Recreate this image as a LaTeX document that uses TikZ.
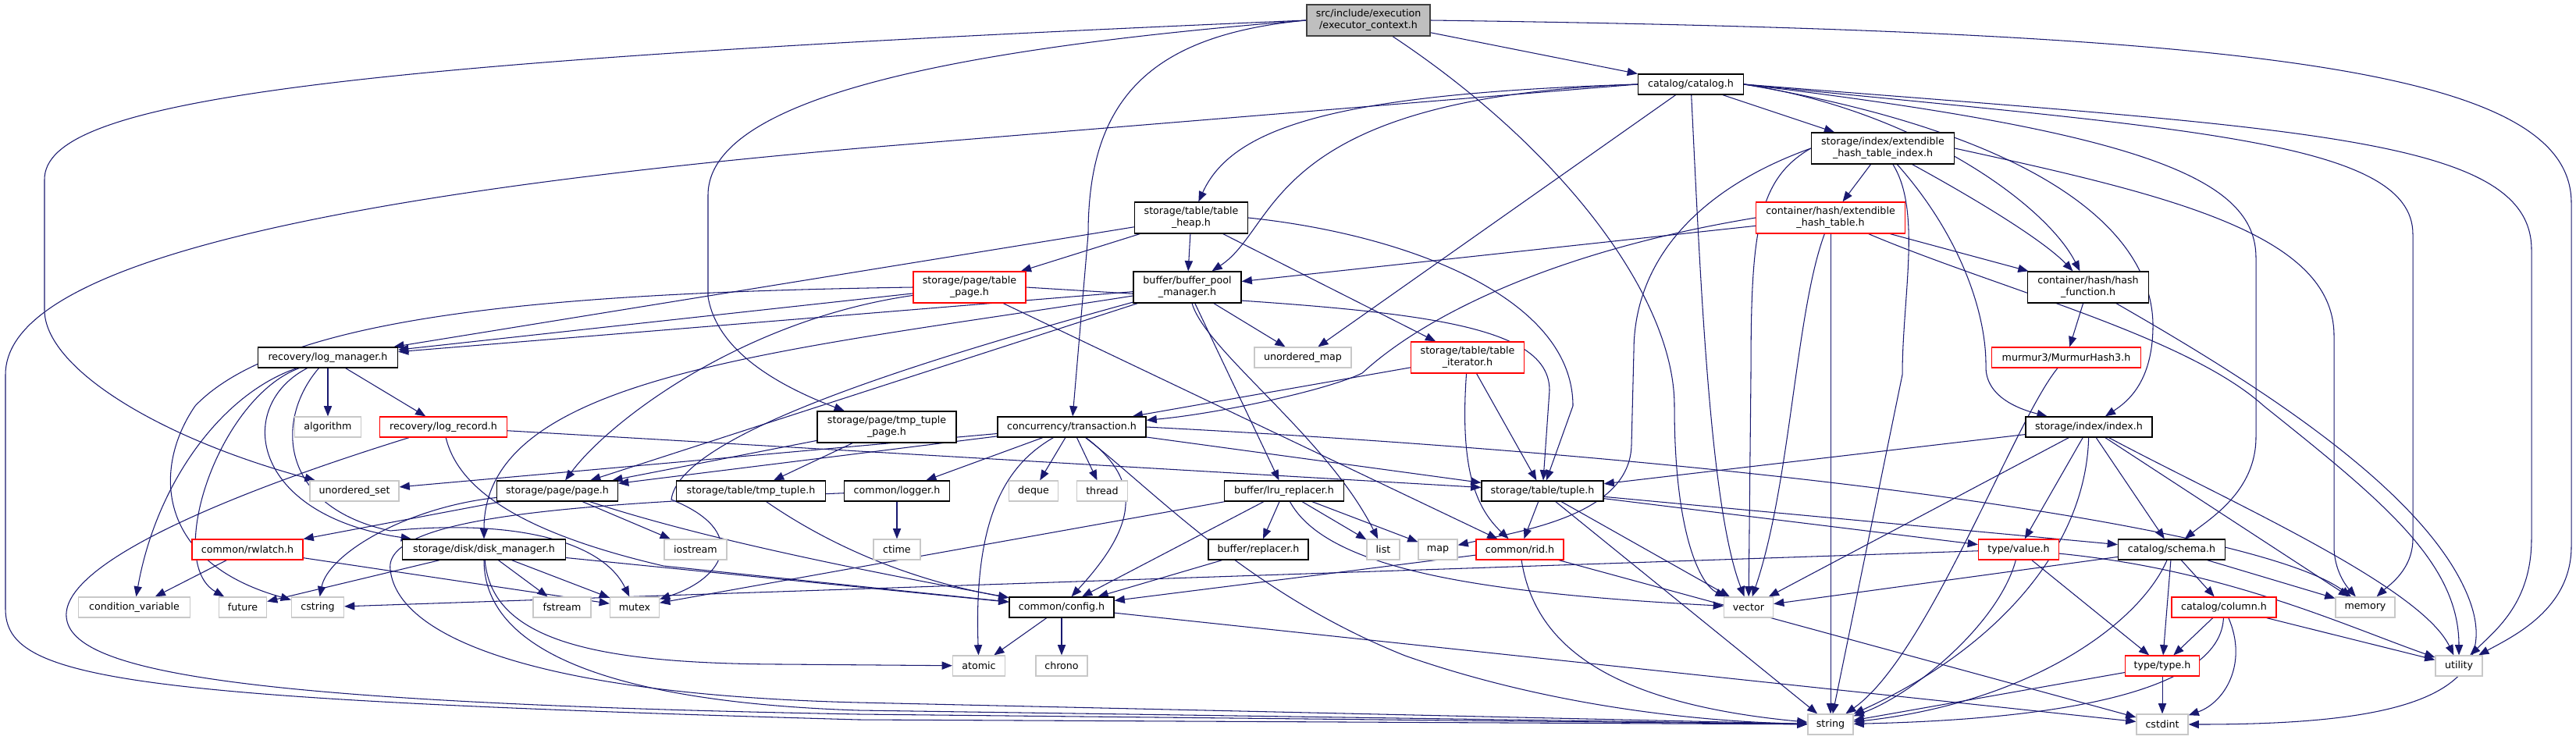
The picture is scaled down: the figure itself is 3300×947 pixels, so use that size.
\documentclass[tikz,border=0pt]{standalone}
\usepackage{fontspec}
\setmainfont{DejaVu Sans}
\usepackage{tikz}
\usetikzlibrary{arrows.meta, backgrounds}
\definecolor{incblue}{RGB}{25,25,112}
\definecolor{extgray}{RGB}{200,200,200}
\definecolor{trunc}{RGB}{255,0,0}
\definecolor{rootfill}{RGB}{191,191,191}
\definecolor{rootline}{RGB}{64,64,64}
\tikzset{
  box/.style    ={rectangle, draw, fill=white, line width=0.75pt, inner sep=0pt,
                  minimum height=0.52cm, align=center, font=\fontsize{7.2}{8.5}\selectfont},
  docbox/.style ={box, draw=black},
  extbox/.style ={box, draw=extgray},
  redbox/.style ={box, draw=trunc},
  rootbox/.style={box, draw=rootline, fill=rootfill},
  tall/.style   ={minimum height=0.8cm},
  inc/.style    ={->, >={Triangle[length=7.5pt,width=5.8pt]}, draw=incblue, line width=0.6pt},
}
\begin{document}
\begin{tikzpicture}[x=0.02cm, y=-0.02cm]
\useasboundingbox (0,0) rectangle (3300,947);

\node[rootbox, tall, minimum width=3.16cm] (ctx) at (1753,26) {src/include/execution\\/executor\_context.h};
\node[docbox, minimum width=2.70cm] (catalog) at (2166,108) {catalog/catalog.h};

\node[docbox, tall, minimum width=2.90cm] (theap) at (1526,279) {storage/table/table\\\_heap.h};
\node[docbox, tall, minimum width=3.66cm] (xindex) at (2412,190) {storage/index/extendible\\\_hash\_table\_index.h};
\node[redbox, tall, minimum width=3.82cm] (xhash) at (2345,279) {container/hash/extendible\\\_hash\_table.h};
\node[redbox, tall, minimum width=2.88cm] (tpage) at (1242,368) {storage/page/table\\\_page.h};
\node[docbox, tall, minimum width=2.76cm] (bpm) at (1521,368) {buffer/buffer\_pool\\\_manager.h};
\node[docbox, tall, minimum width=3.10cm] (hashfn) at (2675,368) {container/hash/hash\\\_function.h};

\node[docbox, minimum width=3.58cm] (logmgr) at (420,458) {recovery/log\_manager.h};
\node[extbox, minimum width=2.48cm] (umap) at (1669,458) {unordered\_map};
\node[redbox, tall, minimum width=2.90cm] (titer) at (1880,458) {storage/table/table\\\_iterator.h};
\node[redbox, minimum width=3.82cm] (murmur) at (2647,458) {murmur3/MurmurHash3.h};

\node[extbox, minimum width=1.70cm] (algo) at (420,547) {algorithm};
\node[redbox, minimum width=3.26cm] (logrec) at (568,547) {recovery/log\_record.h};
\node[docbox, tall, minimum width=3.56cm] (ttpage) at (1136,547) {storage/page/tmp\_tuple\\\_page.h};
\node[docbox, minimum width=3.80cm] (txn) at (1373,547) {concurrency/transaction.h};
\node[docbox, minimum width=3.24cm] (index) at (2676,547) {storage/index/index.h};

\node[extbox, minimum width=2.28cm] (uset) at (454,629) {unordered\_set};
\node[docbox, minimum width=3.10cm] (page) at (714,629) {storage/page/page.h};
\node[docbox, minimum width=3.82cm] (tmptuple) at (962,629) {storage/table/tmp\_tuple.h};
\node[docbox, minimum width=2.70cm] (logger) at (1149,629) {common/logger.h};
\node[extbox, minimum width=1.26cm] (deque) at (1324,629) {deque};
\node[extbox, minimum width=1.30cm] (thread) at (1412,629) {thread};
\node[docbox, minimum width=3.06cm] (lru) at (1645,629) {buffer/lru\_replacer.h};
\node[docbox, minimum width=3.12cm] (tuple) at (1976,629) {storage/table/tuple.h};

\node[redbox, minimum width=2.84cm] (rwlatch) at (317,704) {common/rwlatch.h};
\node[docbox, minimum width=4.18cm] (diskmgr) at (620,704) {storage/disk/disk\_manager.h};
\node[extbox, minimum width=1.60cm] (iostream) at (891,704) {iostream};
\node[extbox, minimum width=1.20cm] (ctime) at (1149,704) {ctime};
\node[docbox, minimum width=2.56cm] (replacer) at (1612,704) {buffer/replacer.h};
\node[extbox, minimum width=0.84cm] (list) at (1772,704) {list};
\node[extbox, minimum width=1.00cm] (map) at (1842,704) {map};
\node[redbox, minimum width=2.24cm] (rid) at (1947,704) {common/rid.h};
\node[redbox, minimum width=2.06cm] (value) at (2586,704) {type/value.h};
\node[docbox, minimum width=2.74cm] (schema) at (2782,704) {catalog/schema.h};

\node[extbox, minimum width=2.86cm] (condvar) at (172,778) {condition\_variable};
\node[extbox, minimum width=1.22cm] (future) at (311,778) {future};
\node[extbox, minimum width=1.34cm] (cstring) at (407,778) {cstring};
\node[extbox, minimum width=1.48cm] (fstream) at (720,778) {fstream};
\node[extbox, minimum width=1.26cm] (mutex) at (813,778) {mutex};
\node[docbox, minimum width=2.68cm] (config) at (1360,778) {common/config.h};
\node[extbox, minimum width=1.26cm] (vector) at (2240,778) {vector};
\node[redbox, minimum width=2.68cm] (column) at (2849,778) {catalog/column.h};
\node[extbox, minimum width=1.52cm] (memory) at (3030,778) {memory};

\node[extbox, minimum width=1.34cm] (atomic) at (1254,853) {atomic};
\node[extbox, minimum width=1.32cm] (chrono) at (1360,853) {chrono};
\node[redbox, minimum width=1.90cm] (type) at (2770,853) {type/type.h};
\node[extbox, minimum width=1.20cm] (utility) at (3150,853) {utility};

\node[extbox, minimum width=1.16cm] (string) at (2345,928) {string};
\node[extbox, minimum width=1.32cm] (cstdint) at (2770,928) {cstdint};

\begin{pgfonlayer}{background}
\fill[white] (0,0) rectangle (3300,947);
% executor_context.h
\draw[inc] (ctx) -- (catalog);
\draw[inc] (ctx.west) .. controls (1470,45) and (1394,130) .. (1394,300) -- (txn);
\draw[inc] (ctx.west) .. controls (1250,60) and (907,120) .. (907,250) -- (907,380) .. controls (915,430) and (960,480) .. (ttpage);
\draw[inc] (ctx.west) .. controls (400,80) and (57,130) .. (57,230) -- (57,397) .. controls (57,470) and (200,560) .. (uset);
\draw[inc] (ctx) .. controls (2000,190) and (2145,380) .. (2145,520) .. controls (2145,690) and (2180,750) .. (vector);
\draw[inc] (ctx.east) .. controls (2900,40) and (3294,90) .. (3294,260) -- (3294,700) .. controls (3294,780) and (3220,815) .. (utility);
% catalog.h
\draw[inc] (catalog.west) .. controls (1620,125) and (1640,290) .. (bpm);
\draw[inc] (catalog.west) .. controls (1720,120) and (1580,160) .. (theap);
\draw[inc] (catalog.west) -- (1100,190) .. controls (300,260) and (7,360) .. (7,480) -- (7,780) .. controls (7,870) and (150,895) .. (1100,922) -- (string);
\draw[inc] (catalog) -- (umap);
\draw[inc] (catalog) -- (xindex);
\draw[inc] (catalog.east) .. controls (2450,140) and (2620,260) .. (hashfn);
\draw[inc] (catalog.east) .. controls (2600,170) and (2760,290) .. (2758,420) .. controls (2757,490) and (2725,515) .. (index);
\draw[inc] (catalog.east) .. controls (2750,170) and (2890,230) .. (2890,330) -- (2890,560) .. controls (2890,630) and (2830,665) .. (schema);
\draw[inc] (catalog.east) .. controls (2800,165) and (3091,180) .. (3091,300) -- (3091,690) .. controls (3091,730) and (3060,750) .. (memory);
\draw[inc] (catalog.east) .. controls (2950,165) and (3243,175) .. (3243,320) -- (3243,690) .. controls (3243,770) and (3200,805) .. (utility);
\draw[inc] (catalog) .. controls (2178,350) and (2190,650) .. (vector);
% extendible_hash_table_index.h
\draw[inc] (xindex) -- (xhash);
\draw[inc] (xindex) .. controls (2540,260) and (2620,310) .. (hashfn);
\draw[inc] (xindex) .. controls (2510,300) and (2545,400) .. (2544,470) .. controls (2544,510) and (2590,525) .. (index);
\draw[inc] (xindex) .. controls (2462,270) and (2437,380) .. (2437,480) -- (string);
\draw[inc] (xindex.west) .. controls (2250,230) and (2243,300) .. (2243,480) -- (vector);
\draw[inc] (xindex.east) .. controls (2780,250) and (2990,300) .. (2990,430) -- (2990,700) .. controls (2990,730) and (3005,750) .. (memory);
\draw[inc] (xindex.west) .. controls (2180,240) and (2093,330) .. (2093,450) -- (2090,570) .. controls (2088,660) and (1950,680) .. (map);
% extendible_hash_table.h
\draw[inc] (xhash) -- (bpm);
\draw[inc] (xhash.west) .. controls (2000,320) and (1830,400) .. (1745,478) .. controls (1700,500) and (1560,530) .. (txn);
\draw[inc] (xhash) -- (hashfn);
\draw[inc] (xhash) -- (string);
\draw[inc] (xhash) .. controls (2300,400) and (2294,620) .. (vector);
\draw[inc] (xhash) .. controls (2560,370) and (2800,430) .. (2900,520) .. controls (3050,640) and (3150,720) .. (utility);
% hash_function.h, MurmurHash3.h
\draw[inc] (hashfn) -- (murmur);
\draw[inc] (hashfn) .. controls (2870,480) and (3100,620) .. (3160,760) .. controls (3220,900) and (3050,928) .. (cstdint);
\draw[inc] (murmur) .. controls (2580,540) and (2470,840) .. (string);
% table_heap.h
\draw[inc] (theap) -- (logmgr);
\draw[inc] (theap) -- (tpage);
\draw[inc] (theap) -- (bpm);
\draw[inc] (theap) -- (titer);
\draw[inc] (theap.east) .. controls (1800,300) and (2015,380) .. (2015,520) -- (tuple);
% table_page.h
\draw[inc] (tpage) -- (logmgr);
\draw[inc] (tpage) .. controls (950,410) and (780,540) .. (page);
\draw[inc] (tpage) -- (rid);
\draw[inc] (tpage.east) .. controls (1750,395) and (1985,400) .. (1985,500) -- (tuple);
\draw[inc] (tpage.west) .. controls (700,375) and (360,405) .. (250,520) .. controls (195,600) and (200,720) .. (cstring);
% buffer_pool_manager.h
\draw[inc] (bpm) -- (logmgr);
\draw[inc] (bpm) -- (page);
\draw[inc] (bpm) .. controls (1000,450) and (620,480) .. (diskmgr);
\draw[inc] (bpm) .. controls (1150,470) and (870,560) .. (860,640) .. controls (960,680) and (930,740) .. (mutex);
\draw[inc] (bpm) .. controls (1545,450) and (1700,560) .. (list);
\draw[inc] (bpm) -- (umap);
\draw[inc] (bpm) -- (lru);
% log_manager.h
\draw[inc] (logmgr) -- (algo);
\draw[inc] (logmgr) -- (logrec);
\draw[inc] (logmgr) .. controls (283,505) and (200,620) .. (condvar);
\draw[inc] (logmgr) .. controls (280,510) and (210,720) .. (future);
\draw[inc] (logmgr) .. controls (300,520) and (320,660) .. (diskmgr);
\draw[inc] (logmgr) .. controls (350,540) and (360,650) .. (500,680) .. controls (650,665) and (770,690) .. (mutex);
% log_record.h
\draw[inc] (logrec) -- (tuple);
\draw[inc] (logrec) .. controls (590,640) and (700,690) .. (850,725) -- (config);
\draw[inc] (logrec) .. controls (300,630) and (80,720) .. (85,790) .. controls (90,860) and (300,900) .. (1100,915) -- (string);
% page.h, tmp_tuple.h, tmp_tuple_page.h
\draw[inc] (page) -- (rwlatch);
\draw[inc] (page) .. controls (520,650) and (420,710) .. (cstring);
\draw[inc] (page) -- (iostream);
\draw[inc] (page) .. controls (900,690) and (1100,730) .. (config);
\draw[inc] (tmptuple) .. controls (1050,690) and (1150,740) .. (config);
\draw[inc] (ttpage) -- (page);
\draw[inc] (ttpage) -- (tmptuple);
% logger.h
\draw[inc] (logger) -- (ctime);
\draw[inc] (logger) .. controls (750,645) and (490,660) .. (500,730) .. controls (510,820) and (700,890) .. (1100,900) -- (string);
% transaction.h
\draw[inc] (txn) -- (page);
\draw[inc] (txn) -- (uset);
\draw[inc] (txn) -- (logger);
\draw[inc] (txn) -- (deque);
\draw[inc] (txn) -- (thread);
\draw[inc] (txn) .. controls (1470,620) and (1450,680) .. (config);
\draw[inc] (txn) .. controls (1290,595) and (1247,660) .. (atomic);
\draw[inc] (txn) .. controls (1480,630) and (1600,760) .. (1800,840) .. controls (2000,910) and (2200,925) .. (string);
\draw[inc] (txn) -- (tuple);
\draw[inc] (txn.east) .. controls (2300,590) and (2900,680) .. (memory);
% table_iterator.h
\draw[inc] (titer) -- (txn);
\draw[inc] (titer) .. controls (1870,600) and (1890,650) .. (rid);
\draw[inc] (titer) -- (tuple);
% lru_replacer.h, replacer.h
\draw[inc] (lru) -- (replacer);
\draw[inc] (lru) -- (list);
\draw[inc] (lru) -- (map);
\draw[inc] (lru) -- (config);
\draw[inc] (lru) -- (mutex);
\draw[inc] (lru) .. controls (1700,730) and (1900,760) .. (vector);
\draw[inc] (replacer) -- (config);
% tuple.h, rid.h, config.h
\draw[inc] (tuple) -- (rid);
\draw[inc] (tuple) -- (value);
\draw[inc] (tuple) -- (schema);
\draw[inc] (tuple) -- (string);
\draw[inc] (tuple) -- (vector);
\draw[inc] (rid) -- (config);
\draw[inc] (rid) .. controls (1965,820) and (2050,900) .. (string);
\draw[inc] (rid) -- (cstdint);
\draw[inc] (config) -- (atomic);
\draw[inc] (config) -- (chrono);
\draw[inc] (config) -- (cstdint);
% disk_manager.h, rwlatch.h
\draw[inc] (diskmgr) -- (future);
\draw[inc] (diskmgr) -- (fstream);
\draw[inc] (diskmgr) -- (mutex);
\draw[inc] (diskmgr) -- (config);
\draw[inc] (diskmgr) .. controls (630,820) and (760,850) .. (1000,851) -- (atomic);
\draw[inc] (diskmgr) .. controls (620,840) and (800,900) .. (1100,910) -- (string);
\draw[inc] (rwlatch) -- (condvar);
\draw[inc] (rwlatch) -- (mutex);
% index.h
\draw[inc] (index) -- (tuple);
\draw[inc] (index) -- (vector);
\draw[inc] (index) -- (value);
\draw[inc] (index) .. controls (2672,700) and (2560,830) .. (string);
\draw[inc] (index) -- (schema);
\draw[inc] (index) -- (memory);
\draw[inc] (index) .. controls (2850,640) and (3100,750) .. (utility);
% value.h, schema.h, column.h, type.h
\draw[inc] (value) -- (cstring);
\draw[inc] (value) .. controls (2560,800) and (2450,890) .. (string);
\draw[inc] (value) -- (type);
\draw[inc] (value) .. controls (2850,730) and (3000,800) .. (utility);
\draw[inc] (schema) -- (vector);
\draw[inc] (schema) .. controls (2740,800) and (2600,900) .. (string);
\draw[inc] (schema) -- (type);
\draw[inc] (schema) -- (column);
\draw[inc] (schema) -- (memory);
\draw[inc] (column) -- (type);
\draw[inc] (column) .. controls (2845,870) and (2700,920) .. (string);
\draw[inc] (column) .. controls (2880,850) and (2850,900) .. (cstdint);
\draw[inc] (column) -- (utility);
\draw[inc] (type) -- (string);
\draw[inc] (type) -- (cstdint);
\end{pgfonlayer}
\end{tikzpicture}
\end{document}
